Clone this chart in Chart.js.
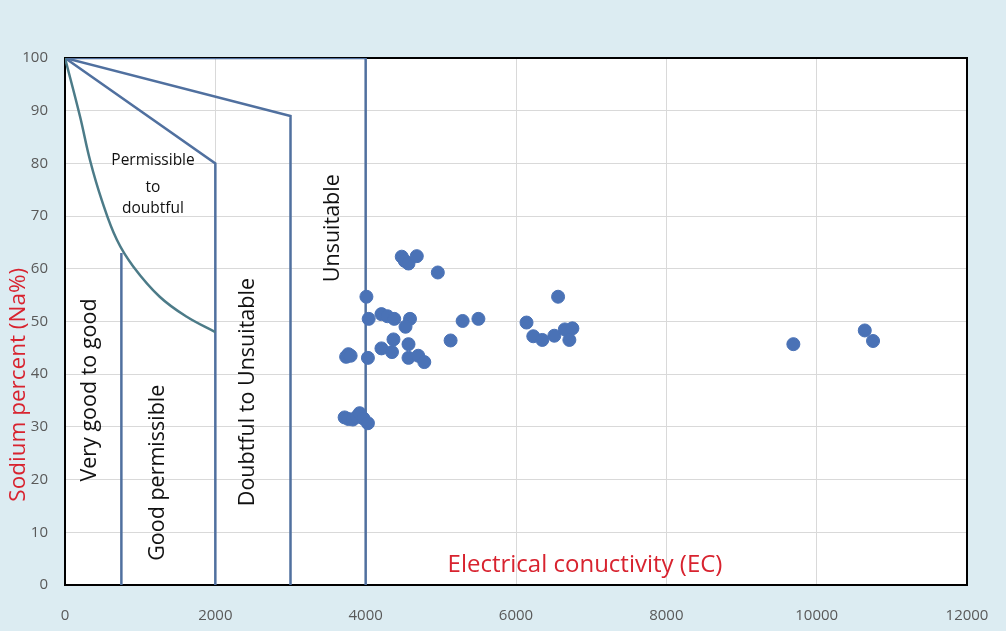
<!DOCTYPE html>
<html lang="en">
<head>
  <meta charset="UTF-8" />
  <title>Sodium percent vs EC</title>
  <script src="https://cdn.jsdelivr.net/npm/chart.js"></script>
  <style>
    html, body { margin: 0; padding: 0; background: #dcecf2; }
    #wrap { width: 1006px; height: 631px; }
  </style>
</head>
<body>
  <div id="wrap"><canvas id="c" width="1006" height="631"></canvas></div>

  <script>
    // samples: electrical conductivity (EC) and sodium percent (Na%)
    const ecValues = [
      4480, 4520, 4570, 4680, 4960, 4010,
      4040, 4210, 4290, 4380, 4590, 4530,
      4370, 4210, 4350, 4570, 4570, 4700, 4780,
      4030, 3740, 3770, 3800,
      5130, 5290, 5500,
      6140, 6230, 6350, 6510, 6560, 6650, 6750, 6710,
      3720, 3770, 3830, 3880, 3920, 3970, 4030,
      9690, 10640, 10750
    ];
    const naValues = [
      62.3, 61.5, 61.0, 62.4, 59.3, 54.7,
      50.5, 51.4, 51.0, 50.5, 50.5, 49.0,
      46.6, 44.9, 44.2, 45.7, 43.1, 43.5, 42.3,
      43.1, 43.3, 43.8, 43.5,
      46.4, 50.1, 50.5,
      49.8, 47.2, 46.5, 47.3, 54.7, 48.5, 48.7, 46.5,
      31.8, 31.5, 31.4, 31.9, 32.6, 31.6, 30.7,
      45.7, 48.3, 46.3
    ];

    // class boundaries of the Wilcox-type diagram
    const curveEc = [0, 200, 333, 490, 690, 910, 1260, 1620, 2000];
    const curveNa = [100, 88.9, 80.6, 73, 65.5, 60.4, 54.7, 50.9, 48];
    const goodLineEc = [750, 750];
    const goodLineNa = [0, 63];
    const permLineEc = [0, 2000, 2000];
    const permLineNa = [100, 80, 0];
    const doubtLineEc = [0, 3000, 3000];
    const doubtLineNa = [100, 89, 0];
    const unsuitLineEc = [0, 4000, 4000];
    const unsuitLineNa = [100, 100, 0];

    const xTicks = [0, 2000, 4000, 6000, 8000, 10000, 12000];
    const yTicks = [0, 10, 20, 30, 40, 50, 60, 70, 80, 90, 100];

    const toXY = (xs, ys) => xs.map((x, i) => ({ x: x, y: ys[i] }));

    function lineSet(xs, ys, color, smooth) {
      return {
        type: 'scatter',
        data: toXY(xs, ys),
        showLine: true,
        borderColor: color,
        borderWidth: 2.5,
        pointRadius: 0,
        fill: false,
        tension: smooth ? 0.4 : 0
      };
    }

    const bgPlugin = {
      id: 'bg',
      beforeDraw(chart) {
        const { ctx, chartArea: a } = chart;
        ctx.save();
        ctx.fillStyle = '#dcecf2';
        ctx.fillRect(0, 0, chart.width, chart.height);
        ctx.fillStyle = '#ffffff';
        ctx.fillRect(a.left, a.top, a.right - a.left, a.bottom - a.top);
        ctx.restore();
      },
      beforeDatasetsDraw(chart) {
        const { ctx, chartArea: a } = chart;
        ctx.save();
        ctx.strokeStyle = '#000';
        ctx.lineWidth = 2;
        ctx.strokeRect(a.left, a.top, a.right - a.left, a.bottom - a.top);
        ctx.restore();
      },
      afterDatasetsDraw(chart) {
        const { ctx, chartArea: a } = chart;
        const xs = chart.scales.x, ys = chart.scales.y;
        const px = v => xs.getPixelForValue(v);
        const py = v => ys.getPixelForValue(v);
        ctx.save();
        ctx.textAlign = 'center';
        ctx.textBaseline = 'middle';

        ctx.fillStyle = '#111';
        ctx.font = '15.5px "Open Sans"';
        ctx.fillText('Permissible', px(1171), py(80.6));
        ctx.fillText('to', px(1171), py(75.5));
        ctx.fillText('doubtful', px(1171), py(71.5));

        const vText = (t, x, y, size, color) => {
          ctx.save();
          ctx.translate(x, y);
          ctx.rotate(-Math.PI / 2);
          ctx.font = size + 'px "Open Sans"';
          ctx.fillStyle = color;
          ctx.fillText(t, 0, 0);
          ctx.restore();
        };
        vText('Very good to good', px(333), py(37), 21.5, '#111');
        vText('Good permissible', px(1237), py(21.3), 21.5, '#111');
        vText('Doubtful to Unsuitable', px(2434), py(36.6), 21.5, '#111');
        vText('Unsuitable', px(3565), py(67.7), 21.5, '#111');

        ctx.fillStyle = '#d8232f';
        ctx.font = '24px "Open Sans"';
        ctx.fillText('Electrical conuctivity (EC)', px(6918), py(3.8));
        vText('Sodium percent (Na%)', a.left - 46, py(38), 22.5, '#d8232f');
        ctx.restore();
      }
    };

    new Chart(document.getElementById('c').getContext('2d'), {
      type: 'scatter',
      data: {
        datasets: [
          {
            data: toXY(ecValues, naValues),
            backgroundColor: '#4a72b6',
            borderColor: '#4a72b6',
            pointRadius: 6.5,
            pointHoverRadius: 6.5
          },
          lineSet(curveEc, curveNa, '#4c7b88', true),
          lineSet(goodLineEc, goodLineNa, '#50709f', false),
          lineSet(permLineEc, permLineNa, '#50709f', false),
          lineSet(doubtLineEc, doubtLineNa, '#50709f', false),
          lineSet(unsuitLineEc, unsuitLineNa, '#50709f', false)
        ]
      },
      options: {
        responsive: false,
        animation: false,
        layout: { padding: { left: 0, top: 58, right: 39, bottom: 0 } },
        plugins: { legend: { display: false }, tooltip: { enabled: false } },
        scales: {
          x: {
            type: 'linear',
            min: 0, max: 12000,
            afterFit: s => { s.height = 46; s.paddingLeft = 0; s.paddingRight = 0; },
            afterBuildTicks: s => { s.ticks = xTicks.map(v => ({ value: v })); },
            grid: { color: '#d9d9d9', drawTicks: false },
            border: { color: '#000', width: 2 },
            ticks: {
              padding: 22, color: '#595959', maxRotation: 0,
              font: { family: 'Open Sans', size: 15 },
              callback: v => String(v)
            }
          },
          y: {
            min: 0, max: 100,
            afterFit: s => { s.width = 65; s.paddingTop = 0; s.paddingBottom = 0; },
            afterBuildTicks: s => { s.ticks = yTicks.map(v => ({ value: v })); },
            grid: { color: '#d9d9d9', drawTicks: false },
            border: { color: '#000', width: 2 },
            ticks: { padding: 17, color: '#595959', font: { family: 'Open Sans', size: 15 } }
          }
        }
      },
      plugins: [bgPlugin]
    });
  </script>
</body>
</html>
